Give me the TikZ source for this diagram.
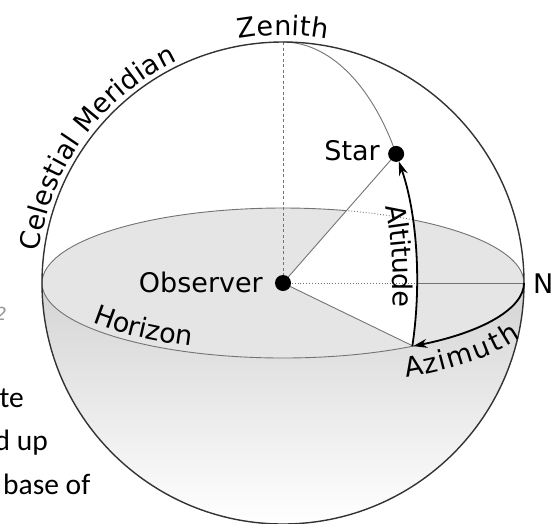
\documentclass[tikz,border=0pt]{standalone}
\usepackage{fontspec}
\setmainfont{DejaVu Sans}
\newfontfamily\calfont{Carlito}
\usetikzlibrary{arrows.meta,decorations.text}
\newcommand\lblfont{\fontsize{27}{32}\selectfont}
\begin{document}
\begin{tikzpicture}[x=1pt,y=1pt,
  rim/.style={draw=black!80, line width=1.4pt},
  guide/.style={draw=black!55, line width=0.9pt},
  hid/.style={draw=black!55, line width=0.9pt, dotted},
  axisline/.style={draw=black!55, line width=0.9pt, dash pattern=on 3pt off 2.5pt},
  measure/.style={draw=black, line width=1.8pt},
  tip/.style={-{Stealth[length=14pt,width=9pt]}},
  dot/.style={circle, fill=black, inner sep=0pt, minimum size=16pt},
  lbl/.style={font=\lblfont, inner sep=0pt},
  frag/.style={font=\calfont\fontsize{29.5}{34}\selectfont, inner sep=0pt},
]
\useasboundingbox (0,0) rectangle (553,-523);
\fill[white] (0,0) rectangle (553,-523);

% text fragments at the left edge
\node[frag, anchor=base east] (f1) at (24,-407) {te};
\node[frag, anchor=base east] (f2) at (48,-450) {d up};
\node[frag, anchor=base west] (f3) at (3,-494) {base of};
\node[anchor=base east, inner sep=0pt, text=black!40, font=\itshape\fontsize{18}{20}\selectfont] (f4) at (7,-320) {2};

\begin{scope}[shift={(283,-283)}]
  \coordinate (O) at (0,0);
  \coordinate (Z) at (0,241);
  \coordinate (N) at (241,0);
  \coordinate (S) at (32.4:134 and 241);
  \coordinate (A) at (-57.3:241 and 75);
  \coordinate (A2) at (-15.2:134 and 241);
  \coordinate (H) at (134,0);
  \coordinate (W) at (-241,0);

  % lower hemisphere
  \shade[top color=black!17, bottom color=white]
    (W) arc[start angle=180,end angle=360,radius=241]
        arc[start angle=0,end angle=-180,x radius=241,y radius=75] -- cycle;
  % horizon disk
  \fill[black!10] (O) ellipse[x radius=241, y radius=75];
  % vertical plane through the star
  \fill[white] (O) -- (S) arc[start angle=32.4,end angle=-15.2,x radius=134,y radius=241] -- cycle;

  % zenith axis
  \draw[axisline] (Z) -- (O);
  % horizon edges
  \draw[guide] (W) arc[start angle=180,end angle=360,x radius=241,y radius=75];
  \draw[guide] (N) arc[start angle=0,end angle=57.5,x radius=241,y radius=75];
  \draw[hid] (57.5:241 and 75) arc[start angle=57.5,end angle=74.7,x radius=241,y radius=75];
  \draw[guide] (74.7:241 and 75) arc[start angle=74.7,end angle=180,x radius=241,y radius=75];
  % observer lines
  \draw[hid] (O) -- (H);
  \draw[guide] (H) -- (N);
  \draw[guide] (O) -- (S);
  \draw[guide] (O) -- (A);
  \draw[guide] (Z) arc[start angle=90,end angle=32.4,x radius=134,y radius=241];
  % celestial sphere
  \draw[rim] (O) circle[radius=241];
  % altitude and azimuth
  \draw[measure, tip, shorten >=8pt] (A2) arc[start angle=-15.2,end angle=32.4,x radius=134,y radius=241];
  \draw[measure, tip] (N) arc[start angle=0,end angle=-57.3,x radius=241,y radius=75];
  % dots
  \node[dot] (obs) at (O) {};
  \node[dot] (star) at (S) {};

  % straight labels
  \node[lbl, anchor=east] (lobs) at (-20,0.5) {Observer};
  \node[lbl, anchor=east] (lstar) at (97,132) {Star};
  \node[lbl, anchor=west] (lN) at (250,-1) {N};

  % curved labels
  \path[decorate, decoration={text along path, text={|\lblfont|Zenith}, text align=center, raise=7pt}]
    (110:241) arc[start angle=110,end angle=70,radius=241];
  \path[decorate, decoration={text along path, text={|\lblfont|Celestial Meridian}, text align=center, raise=5pt}]
    (177:241) arc[start angle=177,end angle=111,radius=241];
  \path[decorate, decoration={text along path, text={|\lblfont|Horizon}, text align=center, raise=6pt}]
    (188:241 and 75) arc[start angle=188,end angle=262,x radius=241,y radius=75];
  \path[decorate, decoration={text along path, text={|\lblfont|Azimuth}, text align=center, raise=-30pt}]
    (-72:241 and 75) arc[start angle=-72,end angle=6,x radius=241,y radius=75];
  \path[decorate, decoration={text along path, text={|\lblfont|Altitude}, text align=center, raise=-24pt}]
    (39.5:134 and 241) arc[start angle=39.5,end angle=-24.5,x radius=134,y radius=241];
\end{scope}
\end{tikzpicture}
\end{document}
